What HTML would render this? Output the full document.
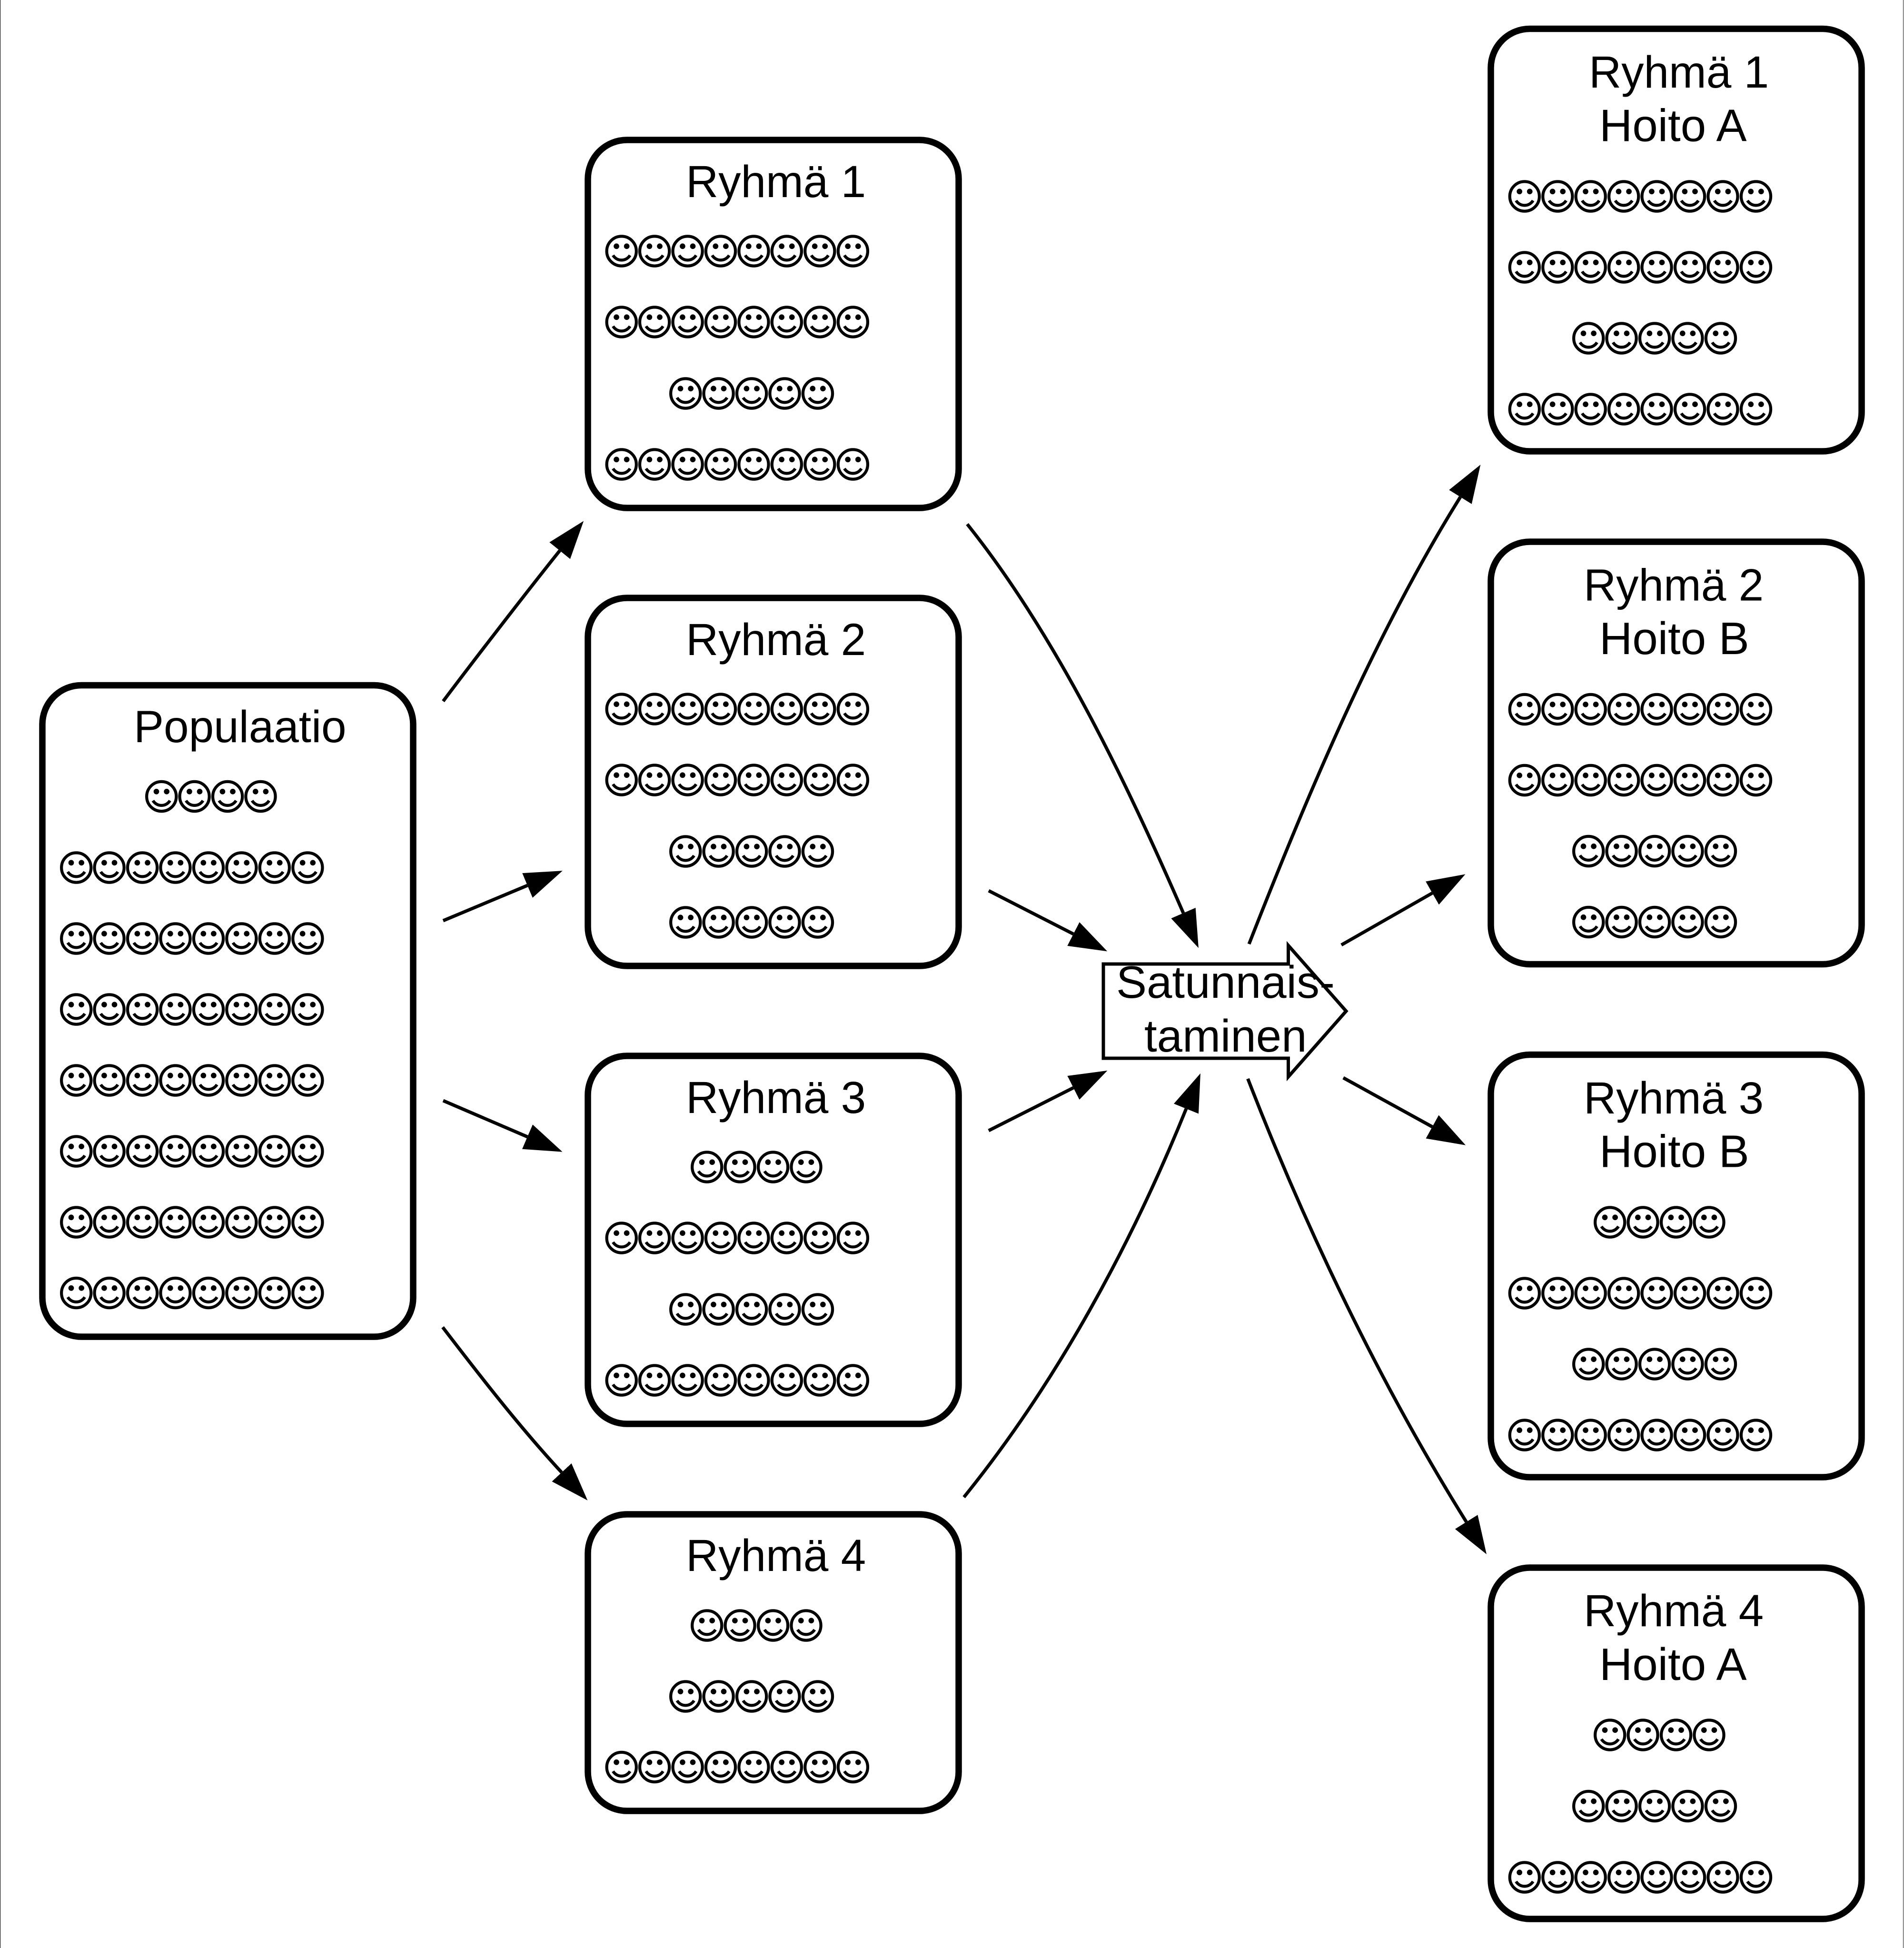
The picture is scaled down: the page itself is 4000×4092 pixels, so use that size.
<!DOCTYPE html>
<html lang="fi"><head><meta charset="utf-8"><title>Satunnaistaminen</title>
<style>
html,body{margin:0;padding:0;background:#fff;width:4000px;height:4092px;overflow:hidden}
svg{display:block}
.b{fill:#fff;stroke:#000;stroke-width:13.5}
.c{fill:none;stroke:#000;stroke-width:7}
.t{font-family:"Liberation Sans",sans-serif;font-size:96px;fill:#000}
.r{font-family:"Liberation Sans",sans-serif;font-size:94.5px;fill:#000}
.s{font-family:"DejaVu Sans",sans-serif;font-size:76.7px;letter-spacing:-10.5px;fill:#000;stroke:#000;stroke-width:1.2px}
</style></head><body>
<svg xmlns="http://www.w3.org/2000/svg" width="4000" height="4092" viewBox="0 0 4000 4092">
<defs><marker id="a" markerUnits="userSpaceOnUse" markerWidth="82" markerHeight="58" refX="0" refY="28" orient="auto"><polygon points="0,0 80,28 0,56" fill="#000"/></marker></defs>
<rect x="0" y="0" width="1" height="4092" fill="#000"/>
<rect x="3998" y="0" width="1" height="4092" fill="#222"/>

<rect class="b" x="89" y="1439.5" width="779" height="1368.5" rx="82"/>
<rect class="b" x="1235" y="294" width="779" height="773" rx="82"/>
<rect class="b" x="1235" y="1256" width="779" height="773" rx="82"/>
<rect class="b" x="1235" y="2218" width="779" height="773" rx="82"/>
<rect class="b" x="1235" y="3181" width="779" height="623" rx="82"/>
<rect class="b" x="3132" y="60.5" width="779" height="887.5" rx="82"/>
<rect class="b" x="3132" y="1138" width="779" height="887.5" rx="82"/>
<rect class="b" x="3132" y="2215.5" width="779" height="887.5" rx="82"/>
<rect class="b" x="3132" y="3293" width="779" height="738" rx="82"/>

<path class="c" marker-end="url(#a)" d="M931 1473C991 1393 1113 1235 1176 1156.700"/>
<path class="c" marker-end="url(#a)" d="M931 1934L1108 1860"/>
<path class="c" marker-end="url(#a)" d="M931 2312L1108 2388"/>
<path class="c" marker-end="url(#a)" d="M930 2788C1009 2891 1092 2998 1180 3093"/>
<path class="c" marker-end="url(#a)" d="M2032 1101C2217 1333 2362 1633 2486 1918"/>
<path class="c" marker-end="url(#a)" d="M2077 1871L2255 1962"/>
<path class="c" marker-end="url(#a)" d="M2077 2375L2255 2285"/>
<path class="c" marker-end="url(#a)" d="M2025 3145C2220 2904 2377 2614 2492 2329"/>
<path class="c" marker-end="url(#a)" d="M2624 1983C2748 1667 2888 1333 3068 1044"/>
<path class="c" marker-end="url(#a)" d="M2818 1985L3009 1876"/>
<path class="c" marker-end="url(#a)" d="M2822 2264L3009 2367"/>
<path class="c" marker-end="url(#a)" d="M2621.500 2266C2744 2582 2900 2908 3080.600 3197"/>

<polygon points="2318,2025 2706.500,2025 2706.500,1986 2828,2124 2706.500,2262 2706.500,2223 2318,2223" fill="#fff" stroke="#000" stroke-width="7"/>
<text class="t" x="2345" y="2096">Satunnais-</text>
<text class="t" x="2404" y="2209">taminen</text>

<text class="r" x="281" y="1559">Populaatio</text>
<text class="r" x="1441" y="414">Ryhmä 1</text>
<text class="r" x="1441" y="1376">Ryhmä 2</text>
<text class="r" x="1441" y="2338">Ryhmä 3</text>
<text class="r" x="1441" y="3300">Ryhmä 4</text>
<text class="r" x="3338" y="184">Ryhmä 1</text>
<text class="t" x="3360" y="296.700">Hoito A</text>
<text class="r" x="3327" y="1261.500">Ryhmä 2</text>
<text class="t" x="3360" y="1374">Hoito B</text>
<text class="r" x="3327" y="2339">Ryhmä 3</text>
<text class="t" x="3360" y="2451.700">Hoito B</text>
<text class="r" x="3327" y="3416">Ryhmä 4</text>
<text class="t" x="3360" y="3529">Hoito A</text>

<g class="s" transform="translate(-4.800,27.500)">
<text x="304" y="1673.500">☺☺☺☺</text>
<text x="125" y="1823">☺☺☺☺☺☺☺☺</text>
<text x="125" y="1972">☺☺☺☺☺☺☺☺</text>
<text x="125" y="2121">☺☺☺☺☺☺☺☺</text>
<text x="125" y="2270">☺☺☺☺☺☺☺☺</text>
<text x="125" y="2419">☺☺☺☺☺☺☺☺</text>
<text x="125" y="2568">☺☺☺☺☺☺☺☺</text>
<text x="125" y="2716.500">☺☺☺☺☺☺☺☺</text>

<text x="1270.500" y="528">☺☺☺☺☺☺☺☺</text>
<text x="1270.500" y="677">☺☺☺☺☺☺☺☺</text>
<text x="1405" y="827">☺☺☺☺☺</text>
<text x="1270.500" y="976">☺☺☺☺☺☺☺☺</text>

<text x="1270.500" y="1490">☺☺☺☺☺☺☺☺</text>
<text x="1270.500" y="1639">☺☺☺☺☺☺☺☺</text>
<text x="1405" y="1789">☺☺☺☺☺</text>
<text x="1405" y="1938">☺☺☺☺☺</text>

<text x="1450" y="2452">☺☺☺☺</text>
<text x="1270.500" y="2601">☺☺☺☺☺☺☺☺</text>
<text x="1405" y="2751">☺☺☺☺☺</text>
<text x="1270.500" y="2900">☺☺☺☺☺☺☺☺</text>

<text x="1450" y="3415">☺☺☺☺</text>
<text x="1405" y="3564">☺☺☺☺☺</text>
<text x="1270.500" y="3712.500">☺☺☺☺☺☺☺☺</text>

<text x="3167.700" y="413">☺☺☺☺☺☺☺☺</text>
<text x="3167.700" y="562">☺☺☺☺☺☺☺☺</text>
<text x="3302" y="711">☺☺☺☺☺</text>
<text x="3167.700" y="860">☺☺☺☺☺☺☺☺</text>

<text x="3167.700" y="1490.500">☺☺☺☺☺☺☺☺</text>
<text x="3167.700" y="1639.500">☺☺☺☺☺☺☺☺</text>
<text x="3302" y="1788.500">☺☺☺☺☺</text>
<text x="3302" y="1937.500">☺☺☺☺☺</text>

<text x="3347" y="2568">☺☺☺☺</text>
<text x="3167.700" y="2717">☺☺☺☺☺☺☺☺</text>
<text x="3302" y="2866">☺☺☺☺☺</text>
<text x="3167.700" y="3015">☺☺☺☺☺☺☺☺</text>

<text x="3347" y="3645">☺☺☺☺</text>
<text x="3302" y="3794.600">☺☺☺☺☺</text>
<text x="3167.700" y="3944">☺☺☺☺☺☺☺☺</text>
</g>
</svg>
</body></html>
